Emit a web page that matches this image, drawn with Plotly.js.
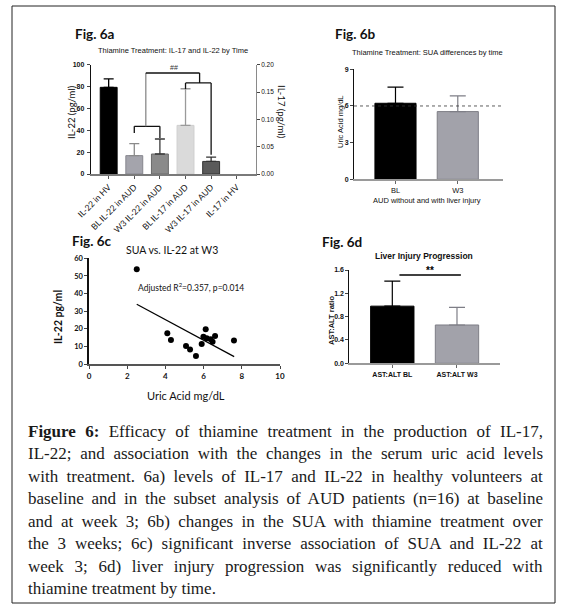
<!DOCTYPE html>
<html>
<head>
<meta charset="utf-8">
<script src="https://cdn.plot.ly/plotly-3.0.1.min.js"></script>
<style>
  html, body { margin: 0; padding: 0; background: #fff; }
  #chart { width: 566px; height: 616px; }
</style>
</head>
<body>
<div id="chart"></div>
<script>
// ---------- DATA ----------
// Fig. 6a
const catsA = ['IL-22 in HV', 'BL IL-22 in AUD', 'W3 IL-22 in AUD', 'BL IL-17 in AUD', 'W3 IL-17 in AUD', 'IL-17 in HV'];
const il22Cats = ['IL-22 in HV', 'BL IL-22 in AUD', 'W3 IL-22 in AUD'];
const il22Mean = [79.3, 16.8, 18.3];
const il22ErrTop = [87.0, 27.7, 32.0];
const il17Cats = ['BL IL-17 in AUD', 'W3 IL-17 in AUD', 'IL-17 in HV'];
const il17Mean = [0.089, 0.023, 0];
const il17ErrTop = [0.156, 0.031, 0];
const ticksA = [0, 20, 40, 60, 80, 100];
const ticksA2 = [0, 0.05, 0.10, 0.15, 0.20];

// Fig. 6b
const catsB = ['BL', 'W3'];
const suaMean = [6.22, 5.54];
const suaErrTop = [7.54, 6.83];
const suaRef = 6;
const ticksB = [0, 3, 6, 9];

// Fig. 6c
const suaW3 = [2.5, 4.1, 4.29, 5.08, 5.29, 5.6, 5.9, 5.99, 6.11, 6.16, 6.37, 6.47, 6.6, 7.59];
const il22W3 = [53.8, 17.4, 13.6, 10.2, 8.3, 4.5, 11.4, 15.5, 19.7, 14.6, 14.0, 12.7, 15.9, 13.3];
const fitX = [2.5, 7.6];
const fitY = [33.9, 4.2];
const ticksCx = [0, 2, 4, 6, 8, 10];
const ticksCy = [0, 10, 20, 30, 40, 50, 60];

// Fig. 6d
const catsD = ['AST:ALT BL', 'AST:ALT W3'];
const ratioMean = [0.98, 0.657];
const ratioErrTop = [1.41, 0.96];
const ticksD = [0, 0.4, 0.8, 1.2, 1.6];

// Caption
const captionLines = [
  '<b>Figure 6:</b> Efficacy of thiamine treatment in the production of IL-17,',
  'IL-22; and association with the changes in the serum uric acid levels',
  'with treatment. 6a) levels of IL-17 and IL-22 in healthy volunteers at',
  'baseline and in the subset analysis of AUD patients (n=16) at baseline',
  'and at week 3; 6b) changes in the SUA with thiamine treatment over',
  'the 3 weeks; 6c) significant inverse association of SUA and IL-22 at',
  'week 3; 6d) liver injury progression was significantly reduced with',
  'thiamine treatment by time.'
];

// ---------- HELPERS ----------
const W = 566, H = 616;
const px = v => v / W;
const py = v => 1 - v / H;
const SANS = 'Liberation Sans, Arial, sans-serif';
const CAL = 'Lato, Liberation Sans, sans-serif';
const SERIF = 'Liberation Serif, Times New Roman, serif';

const annotations = [];
function ann(text, x, y, size, o) {
  o = o || {};
  annotations.push(Object.assign({
    text: text, xref: 'paper', yref: 'paper', x: px(x), y: py(y),
    xanchor: 'center', yanchor: 'middle', showarrow: false,
    font: { family: o.family || SANS, size: size, color: o.color || '#111' }
  }, o.extra || {}));
}

// ---------- TRACES ----------
const data = [];
// 6a IL-22 bars (left axis)
const il22Fill = ['#000000', '#a4a4ac', '#8a8a8a'];
const il22Line = ['#000000', '#86868e', '#6a6a6a'];
const il22Err = ['#000000', '#8a8a8a', '#3a3a3a'];
il22Cats.forEach((c, i) => {
  data.push({
    type: 'bar', x: [c], y: [il22Mean[i]], xaxis: 'x', yaxis: 'y', width: 0.66,
    marker: { color: il22Fill[i], line: { color: il22Line[i], width: 1 } },
    error_y: { type: 'data', symmetric: false, array: [il22ErrTop[i] - il22Mean[i]], arrayminus: [0],
      color: il22Err[i], thickness: 1.3, width: 5 },
    hoverinfo: 'skip', showlegend: false
  });
});
// 6a IL-17 bars (right axis)
const il17Fill = ['#dadada', '#5a5a5a', '#ffffff'];
const il17Line = ['#cfcfcf', '#333333', '#ffffff'];
const il17Err = ['#9a9a9a', '#333333', '#ffffff'];
il17Cats.forEach((c, i) => {
  const tr = {
    type: 'bar', x: [c], y: [il17Mean[i]], xaxis: 'x', yaxis: 'y2', width: 0.66,
    marker: { color: il17Fill[i], line: { color: il17Line[i], width: 1 } },
    hoverinfo: 'skip', showlegend: false
  };
  if (il17ErrTop[i] > il17Mean[i]) {
    tr.error_y = { type: 'data', symmetric: false, array: [il17ErrTop[i] - il17Mean[i]], arrayminus: [0],
      color: il17Err[i], thickness: 1.3, width: 5 };
  }
  data.push(tr);
});
// 6b
const bFill = ['#000000', '#a2a2aa'];
const bLine = ['#000000', '#7e7e86'];
const bErr = ['#000000', '#7e7e86'];
catsB.forEach((c, i) => {
  data.push({
    type: 'bar', x: [c], y: [suaMean[i]], xaxis: 'x2', yaxis: 'y3', width: 0.66,
    marker: { color: bFill[i], line: { color: bLine[i], width: 1 } },
    error_y: { type: 'data', symmetric: false, array: [suaErrTop[i] - suaMean[i]], arrayminus: [0],
      color: bErr[i], thickness: 1.2, width: 8 },
    hoverinfo: 'skip', showlegend: false
  });
});
// 6c
data.push({
  type: 'scatter', mode: 'markers', x: suaW3, y: il22W3, xaxis: 'x3', yaxis: 'y4',
  marker: { color: '#000', size: 6 }, hoverinfo: 'skip', showlegend: false, cliponaxis: false
});
data.push({
  type: 'scatter', mode: 'lines', x: fitX, y: fitY, xaxis: 'x3', yaxis: 'y4',
  line: { color: '#000', width: 1.2 }, hoverinfo: 'skip', showlegend: false
});
// 6d
const dFill = ['#000000', '#a2a2aa'];
const dLine = ['#000000', '#7e7e86'];
const dErr = ['#000000', '#7e7e86'];
catsD.forEach((c, i) => {
  data.push({
    type: 'bar', x: [c], y: [ratioMean[i]], xaxis: 'x4', yaxis: 'y5', width: 0.67,
    marker: { color: dFill[i], line: { color: dLine[i], width: 1 } },
    error_y: { type: 'data', symmetric: false, array: [ratioErrTop[i] - ratioMean[i]], arrayminus: [0],
      color: dErr[i], thickness: 1.2, width: 8 },
    hoverinfo: 'skip', showlegend: false
  });
});

// ---------- SHAPES ----------
const shapes = [];
function seg(xref, yref, x0, y0, x1, y1, color, width, dash) {
  shapes.push({ type: 'line', xref: xref, yref: yref, x0: x0, y0: y0, x1: x1, y1: y1,
    line: { color: color, width: width || 1.2, dash: dash || 'solid' } });
}
// 6a brackets (category index / IL-22 scale)
seg('x', 'y', 1, 43.6, 2, 43.6, '#111', 1.3);
seg('x', 'y', 1, 43.6, 1, 37.5, '#111', 1.3);
seg('x', 'y', 2, 43.6, 2, 33.0, '#111', 1.3);
seg('x', 'y', 1.45, 43.6, 1.45, 92.4, '#8a8a8a', 1.3);
seg('x', 'y', 1.45, 92.4, 3.55, 92.4, '#111', 1.3);
seg('x', 'y', 3.55, 92.4, 3.55, 83.3, '#111', 1.3);
seg('x', 'y', 3, 83.3, 4, 83.3, '#111', 1.3);
seg('x', 'y', 3, 83.3, 3, 77.8, '#111', 1.3);
seg('x', 'y', 4, 83.3, 4, 17.7, '#111', 1.3);
// 6b reference line
shapes.push({ type: 'line', xref: 'x2 domain', yref: 'y3', x0: 0, x1: 1, y0: suaRef, y1: suaRef,
  line: { color: '#333', width: 0.8, dash: 'dot' } });
// 6d significance line
seg('x4', 'y5', 0.11, 1.515, 1.06, 1.515, '#000', 1.4);
// outer frame
shapes.push({ type: 'rect', xref: 'paper', yref: 'paper', x0: px(12), x1: px(555), y0: py(603), y1: py(6),
  line: { color: '#222', width: 1 } });

// ---------- ANNOTATIONS ----------
// figure labels
ann('<b>Fig. 6a</b>', 73, 34, 13.5, { family: CAL, extra: { xanchor: 'left' } });
ann('<b>Fig. 6b</b>', 333, 34, 13.5, { family: CAL, extra: { xanchor: 'left' } });
ann('<b>Fig. 6c</b>', 70, 241, 13.5, { family: CAL, extra: { xanchor: 'left' } });
ann('<b>Fig. 6d</b>', 320, 242, 13.5, { family: CAL, extra: { xanchor: 'left' } });
// 6a
ann('Thiamine Treatment: IL-17 and IL-22 by Time', 173, 50, 7.5);
ann('IL-22 (pg/ml)', 71, 112, 9.5, { family: CAL, extra: { textangle: -90 } });
ann('IL-17 (pg/ml)', 282, 112, 9.5, { family: CAL, extra: { textangle: 90 } });
annotations.push({ text: '##', xref: 'x', yref: 'y', x: 2.55, y: 97.8, showarrow: false,
  font: { family: SANS, size: 7, color: '#333' }, xanchor: 'center', yanchor: 'middle' });
// 6b
ann('Thiamine Treatment: SUA differences by time', 427, 53, 7.5);
ann('Uric Acid mg/dL', 341, 122, 7.5, { extra: { textangle: -90 } });
ann('AUD without and with liver injury', 427, 200, 7.5);
// 6c
ann('SUA vs. IL-22 at W3', 172, 250, 10.5, { family: CAL });
ann('Adjusted R<sup>2</sup>=0.357, p=0.014', 191, 287, 8.5, { family: CAL });
ann('Uric Acid mg/dL', 186, 395, 11, { family: CAL });
ann('<b>IL-22 pg/ml</b>', 58, 317, 10.5, { family: CAL, extra: { textangle: -90 } });
// 6d
ann('<b>Liver Injury Progression</b>', 424, 256, 8.5);
ann('<b>AST:ALT ratio</b>', 332, 320, 7.5, { extra: { textangle: -90 } });
annotations.push({ text: '<b>**</b>', xref: 'x4', yref: 'y5', x: 0.58, y: 1.6, showarrow: false,
  font: { family: SANS, size: 10, color: '#000' }, xanchor: 'center', yanchor: 'middle' });

// caption
const captionStart = annotations.length;
const capY = [431, 453.5, 476, 498.5, 521, 543.5, 566, 588.5];
captionLines.forEach((t, i) => {
  ann(t, 26, capY[i], 17, { family: SERIF, color: '#1a1a1a', extra: { xanchor: 'left', align: 'left' } });
});

// ---------- LAYOUT ----------
const tickFont = (s, fam, bold) => ({ family: fam || SANS, size: s, color: '#111', weight: bold ? 'bold' : 'normal' });
const layout = {
  width: W, height: H, margin: { l: 0, r: 0, t: 0, b: 0 },
  paper_bgcolor: '#fff', plot_bgcolor: 'rgba(0,0,0,0)',
  barmode: 'overlay', showlegend: false,
  font: { family: SANS },
  // 6a
  xaxis: { domain: [px(91), px(255.7)], anchor: 'y', type: 'category', categoryorder: 'array', categoryarray: catsA,
    range: [-0.69, 5.74], tickangle: -45, tickfont: tickFont(8.5, CAL), ticks: 'outside', ticklen: 3,
    tickcolor: '#555', showline: true, linecolor: '#7a7a7a', linewidth: 2, showgrid: false, zeroline: false, fixedrange: true },
  yaxis: { domain: [py(174), py(64.7)], anchor: 'x', range: [0, 100], tickvals: ticksA, ticks: 'outside', ticklen: 3,
    tickfont: tickFont(7, SANS, true), showline: true, linecolor: '#111', linewidth: 1.2, showgrid: false, zeroline: false, ticklabelstandoff: 1 },
  yaxis2: { overlaying: 'y', anchor: 'x', side: 'right', range: [0, 0.2], tickvals: ticksA2, tickformat: '.2f',
    ticks: 'outside', ticklen: 3, tickfont: tickFont(6.5, SANS, false), showline: true, linecolor: '#8a8a8a', linewidth: 1.2,
    showgrid: false, zeroline: false, ticklabelstandoff: 0 },
  // 6b
  xaxis2: { domain: [px(354), px(503)], anchor: 'y3', type: 'category', range: [-0.666, 1.726],
    tickfont: tickFont(7.5), ticks: 'outside', ticklen: 3, tickcolor: '#666', showline: true, linecolor: '#9a9a9a', linewidth: 2,
    showgrid: false, zeroline: false },
  yaxis3: { domain: [py(179.3), py(69.3)], anchor: 'x2', range: [0, 9], tickvals: ticksB, ticks: 'outside', ticklen: 3,
    tickfont: tickFont(7, SANS, true), showline: true, linecolor: '#111', linewidth: 1, showgrid: false, zeroline: false },
  // 6c
  xaxis3: { domain: [px(89), px(280)], anchor: 'y4', range: [0, 10], tickvals: ticksCx, ticks: 'outside', ticklen: 3,
    tickfont: tickFont(8, CAL, true), showline: true, linecolor: '#555', linewidth: 2, showgrid: false, zeroline: false },
  yaxis4: { domain: [py(364), py(258.3)], anchor: 'x3', range: [0, 60], tickvals: ticksCy, ticks: 'outside', ticklen: 3,
    tickfont: tickFont(7.5, CAL, true), showline: true, linecolor: '#111', linewidth: 1.6, showgrid: false, zeroline: false },
  // 6d
  xaxis4: { domain: [px(349.3), px(500)], anchor: 'y5', type: 'category', range: [-0.665, 1.665],
    tickfont: tickFont(7, SANS, true), ticks: 'outside', ticklen: 3, tickcolor: '#666', showline: true, linecolor: '#9a9a9a', linewidth: 2,
    showgrid: false, zeroline: false },
  yaxis5: { domain: [py(363.3), py(270)], anchor: 'x4', range: [0, 1.6], tickvals: ticksD, tickformat: '.1f', ticks: 'outside', ticklen: 3,
    tickfont: tickFont(7, SANS, true), showline: true, linecolor: '#111', linewidth: 1, showgrid: false, zeroline: false },
  shapes: shapes,
  annotations: annotations
};

Plotly.newPlot('chart', data, layout, { staticPlot: true, displayModeBar: false }).then(gd => {
  // justify caption lines (all but the last) to the right margin
  const rightEdge = 541, leftEdge = 26;
  for (let i = captionStart; i < captionStart + captionLines.length - 1; i++) {
    const t = gd.querySelector('g.annotation[data-index="' + i + '"] text.annotation-text');
    if (!t) continue;
    const w = t.getBBox().width;
    const spaces = (t.textContent.match(/ /g) || []).length;
    if (spaces > 0) {
      const extra = (rightEdge - leftEdge - w) / spaces;
      t.style.wordSpacing = extra.toFixed(2) + 'px';
    }
  }
});
</script>
</body>
</html>
